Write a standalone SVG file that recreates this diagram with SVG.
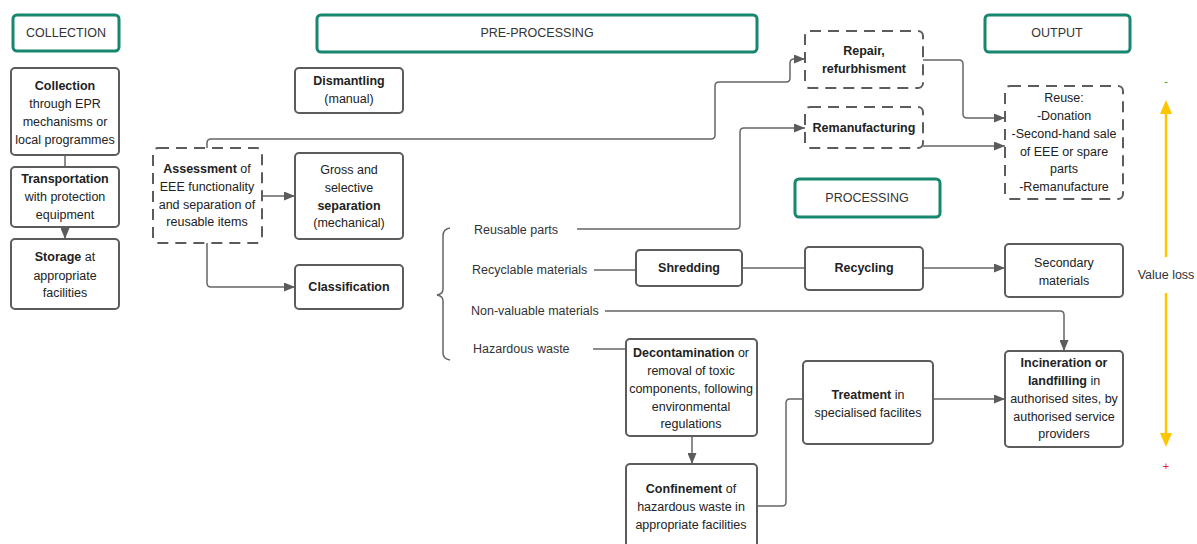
<svg xmlns="http://www.w3.org/2000/svg" width="1197" height="544" viewBox="0 0 1197 544">
<defs>
<style>
text{font-family:"Liberation Sans",Arial,sans-serif;font-size:12.5px;fill:#222;text-anchor:middle;dominant-baseline:central}
.b{font-weight:bold}
.hdr rect{fill:#fff;stroke:#17876f;stroke-width:3}
.hdr text{font-size:12.5px;fill:#333}
.box{fill:#fff;stroke:#5c5c5c;stroke-width:2}
.dash{fill:#fff;stroke:#5c5c5c;stroke-width:2;stroke-dasharray:11 7}
.lbl{text-anchor:start;fill:#333}
.c{fill:none;stroke:#666;stroke-width:1.5}
.y{fill:none;stroke:#ffc600;stroke-width:2.5}
</style>
<marker id="ar" markerWidth="11" markerHeight="9" refX="11" refY="4.5" orient="auto" markerUnits="userSpaceOnUse">
<path d="M0,0 L11,4.5 L0,9 Z" fill="#5c5c5c"/>
</marker>
</defs>
<rect width="1197" height="544" fill="#fff"/>

<g id="connectors">
<path class="c" d="M65,155 V167"/>
<path class="c" d="M65,227 V239" marker-end="url(#ar)"/>
<path class="c" d="M262,196 H295" marker-end="url(#ar)"/>
<path class="c" d="M207,243 V283 Q207,287 211,287 H295" marker-end="url(#ar)"/>
<path class="c" d="M207,148 V143 Q207,139 211,139 H711 Q715,139 715,135 V86 Q715,82 719,82 H786 Q790,82 790,78 V63 Q790,59 794,59 H805" marker-end="url(#ar)"/>
<path class="c" d="M577,229 H736 Q740,229 740,225 V132 Q740,128 744,128 H805" marker-end="url(#ar)"/>
<path class="c" d="M923,60 H959 Q963,60 963,64 V114 Q963,118 967,118 H1005" marker-end="url(#ar)"/>
<path class="c" d="M923,146 H1005" marker-end="url(#ar)"/>
<path class="c" d="M594,270 H636"/>
<path class="c" d="M742,268 H805"/>
<path class="c" d="M923,268 H1005" marker-end="url(#ar)"/>
<path class="c" d="M605,311 H1060 Q1064,311 1064,315 V351" marker-end="url(#ar)"/>
<path class="c" d="M593,349 H626"/>
<path class="c" d="M692,436 V464" marker-end="url(#ar)"/>
<path class="c" d="M757,506 H782 Q786,506 786,502 V403 Q786,399 790,399 H803"/>
<path class="c" d="M933,399 H1005" marker-end="url(#ar)"/>
<path class="c" d="M450,228 Q443,229 443,236 V289 Q443,294 437,295 Q443,296 443,301 V353 Q443,359 450,360"/>
</g>

<g id="hdr-collection" class="hdr"><rect x="13" y="15" width="106" height="36" rx="4"/><text x="66" y="33">COLLECTION</text></g>
<g id="hdr-preprocessing" class="hdr"><rect x="317" y="15" width="440" height="37" rx="4"/><text x="537" y="33">PRE-PROCESSING</text></g>
<g id="hdr-output" class="hdr"><rect x="985" y="15" width="145" height="37" rx="4"/><text x="1057" y="33">OUTPUT</text></g>
<g id="hdr-processing" class="hdr"><rect x="795" y="179" width="145" height="38" rx="4"/><text x="867" y="198">PROCESSING</text></g>

<g id="collection"><rect class="box" x="11" y="68" width="108" height="87" rx="4"/>
<text x="65" y="86" class="b">Collection</text><text x="65" y="104">through EPR</text><text x="65" y="122">mechanisms or</text><text x="65" y="140">local programmes</text></g>
<g id="transportation"><rect class="box" x="11" y="167" width="108" height="60" rx="4"/>
<text x="65" y="179" class="b">Transportation</text><text x="65" y="197">with protection</text><text x="65" y="215">equipment</text></g>
<g id="storage"><rect class="box" x="11" y="239" width="108" height="70" rx="4"/>
<text x="65" y="257"><tspan class="b">Storage</tspan> at</text><text x="65" y="276">appropriate</text><text x="65" y="293">facilities</text></g>

<g id="dismantling"><rect class="box" x="295" y="68" width="108" height="45" rx="4"/>
<text x="349" y="81" class="b">Dismantling</text><text x="349" y="99">(manual)</text></g>
<g id="assessment"><rect class="dash" x="153" y="148" width="109" height="95" rx="5"/>
<text x="207" y="169"><tspan class="b">Assessment</tspan> of</text><text x="207" y="187">EEE functionality</text><text x="207" y="205">and separation of</text><text x="207" y="222">reusable items</text></g>
<g id="separation"><rect class="box" x="295" y="153" width="108" height="86" rx="4"/>
<text x="349" y="170">Gross and</text><text x="349" y="188">selective</text><text x="349" y="206" class="b">separation</text><text x="349" y="223">(mechanical)</text></g>
<g id="classification"><rect class="box" x="295" y="265" width="108" height="44" rx="4"/>
<text x="349" y="287" class="b">Classification</text></g>

<g id="repair"><rect class="dash" x="805" y="31" width="118" height="57" rx="5"/>
<text x="864" y="51" class="b">Repair,</text><text x="864" y="69" class="b">refurbhisment</text></g>
<g id="remanufacturing"><rect class="dash" x="805" y="107" width="118" height="41" rx="5"/>
<text x="864" y="128" class="b">Remanufacturing</text></g>
<g id="reuse"><rect class="dash" x="1005" y="86" width="118" height="113" rx="5"/>
<text x="1064" y="98">Reuse:</text><text x="1064" y="116">-Donation</text><text x="1064" y="134">-Second-hand sale</text><text x="1064" y="152">of EEE or spare</text><text x="1064" y="169">parts</text><text x="1064" y="187">-Remanufacture</text></g>

<g id="labels">
<text class="lbl" x="474" y="230">Reusable parts</text>
<text class="lbl" x="472" y="270">Recyclable materials</text>
<text class="lbl" x="471" y="311">Non-valuable materials</text>
<text class="lbl" x="473" y="349">Hazardous waste</text>
</g>

<g id="shredding"><rect class="box" x="636" y="250" width="106" height="36" rx="4"/>
<text x="689" y="268" class="b">Shredding</text></g>
<g id="recycling"><rect class="box" x="805" y="247" width="118" height="43" rx="4"/>
<text x="864" y="268" class="b">Recycling</text></g>
<g id="secondary"><rect class="box" x="1005" y="244" width="118" height="53" rx="4"/>
<text x="1064" y="263">Secondary</text><text x="1064" y="281">materials</text></g>

<g id="decontamination"><rect class="box" x="626" y="339" width="131" height="97" rx="4"/>
<text x="691" y="353"><tspan class="b">Decontamination</tspan> or</text><text x="691" y="371">removal of toxic</text><text x="691" y="389">components, following</text><text x="691" y="407">environmental</text><text x="691" y="424">regulations</text></g>
<g id="confinement"><rect class="box" x="626" y="464" width="131" height="90" rx="4"/>
<text x="691" y="489"><tspan class="b">Confinement</tspan> of</text><text x="691" y="507">hazardous waste in</text><text x="691" y="525">appropriate facilities</text></g>
<g id="treatment"><rect class="box" x="803" y="361" width="130" height="83" rx="4"/>
<text x="868" y="395"><tspan class="b">Treatment</tspan> in</text><text x="868" y="413">specialised facilites</text></g>
<g id="incineration"><rect class="box" x="1005" y="351" width="118" height="96" rx="4"/>
<text x="1064" y="363" class="b">Incineration or</text><text x="1064" y="381"><tspan class="b">landfilling</tspan> in</text><text x="1064" y="399">authorised sites, by</text><text x="1064" y="417">authorised service</text><text x="1064" y="434">providers</text></g>

<g id="value-loss">
<text x="1166" y="81" style="fill:#1aa41a;font-size:11px">-</text>
<path class="y" d="M1166,257 V112"/>
<path d="M1160,114 L1166,100 L1172,114 Z" fill="#ffc600"/>
<text x="1166" y="275" style="fill:#333">Value loss</text>
<path class="y" d="M1166,293 V435"/>
<path d="M1160,433 L1166,447 L1172,433 Z" fill="#ffc600"/>
<text x="1166" y="466" style="fill:#e02020;font-size:11px">+</text>
</g>
</svg>
